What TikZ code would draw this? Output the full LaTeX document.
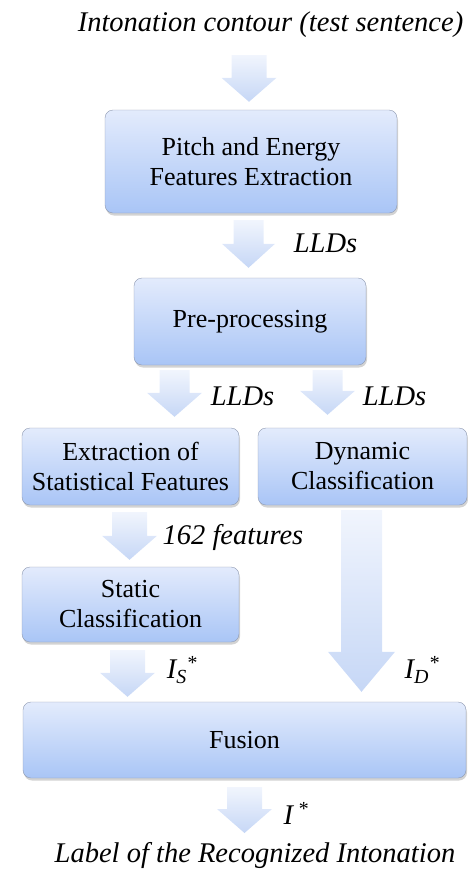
\documentclass[tikz,border=0pt]{standalone}
\usepackage{fontspec}
\setmainfont{Liberation Serif}
\usetikzlibrary{calc,shadows}
\definecolor{boxtop}{HTML}{E3EBFC}
\definecolor{boxbot}{HTML}{A9C5F6}
\definecolor{boxline}{HTML}{8E99B0}
\definecolor{arrtop}{HTML}{F1F5FD}
\definecolor{arrbot}{HTML}{C6D7F6}
\tikzset{
  block/.style={rectangle,rounded corners=8pt,draw=boxline,top color=boxtop,bottom color=boxbot,
    align=center,inner sep=0pt,font=\fontsize{26}{30}\selectfont,
    drop shadow={shadow xshift=1pt,shadow yshift=-2.5pt,opacity=0.35}},
  lbl/.style={inner sep=0pt,font=\fontsize{28.5}{32}\selectfont\itshape},
  fatarrow/.style={top color=arrtop,bottom color=arrbot,draw=none}
}
% block arrow: start, end, half shaft, half head, head length
\newcommand{\blockarrow}[5]{%
  \path[fatarrow] let \p1=(#1), \p2=(#2) in
    (\x1-#3pt,\y1) -- (\x1+#3pt,\y1) -- (\x1+#3pt,\y2+#5pt) -- (\x1+#4pt,\y2+#5pt)
    -- (\x1,\y2) -- (\x1-#4pt,\y2+#5pt) -- (\x1-#3pt,\y2+#5pt) -- cycle;}

\begin{document}
\begin{tikzpicture}[x=1pt,y=-1pt]
  \useasboundingbox (0,0) rectangle (468,871);
  % boxes
  \node[lbl] (title) at (270.5,25) {Intonation contour (test sentence)};
  \node[block,minimum width=292pt,minimum height=103pt] (pitch) at (251,161.5) {Pitch and Energy\\Features Extraction};
  \node[block,minimum width=232pt,minimum height=87pt] (pre) at (250,321.5) {Pre-processing};
  \node[block,minimum width=217pt,minimum height=77pt] (extr) at (130.5,466.5) {Extraction of\\Statistical Features};
  \node[block,minimum width=209pt,minimum height=77pt] (dyn) at (362.5,466.5) {Dynamic\\Classification};
  \node[block,minimum width=217pt,minimum height=75pt] (static) at (130.5,604.5) {Static\\Classification};
  \node[block,minimum width=443pt,minimum height=76pt] (fusion) at (244.5,740) {Fusion};
  \node[lbl] (result) at (255,855) {Label of the Recognized Intonation};

  % arrows
  \blockarrow{$(title)+(-21.5,30)$}{$(pitch.north)+(0,-8)$}{17.5}{27.5}{24}
  \blockarrow{$(pitch.south)+(-2.5,7)$}{$(pre.north)+(0,-10)$}{15}{26.5}{24}
  \blockarrow{$(pre.south)+(-75.5,5)$}{$(extr.north)+(0,-11)$}{15}{27.5}{24}
  \blockarrow{$(pre.south)+(77.5,5)$}{$(dyn.north)+(0,-13)$}{15}{27.5}{24}
  \blockarrow{$(extr.south)+(-1,7)$}{$(static.north)+(0,-7)$}{17.5}{27.5}{24}
  \blockarrow{$(dyn.south)+(-1,5)$}{$(fusion.north)+(0,-10)$}{20.5}{33.5}{40}
  \blockarrow{$(static.south)+(-3,8)$}{$(fusion.north)+(0,-5)$}{17.5}{27.5}{24}
  \blockarrow{$(fusion.south)+(0,9)$}{$(result)+(0,-22)$}{17.5}{27.5}{24}

  % arrow labels
  \node[lbl] (lld1) at (325.5,243) {LLDs};
  \node[lbl] (lld2) at (242.5,396) {LLDs};
  \node[lbl] (lld3) at (394.5,396) {LLDs};
  \node[lbl] (feat) at (233,537) {162 features};
  \node[lbl] (outs) at (182,670) {I\textsubscript{S}\textsuperscript{*}};
  \node[lbl] (outd) at (422,670) {I\textsubscript{D}\textsuperscript{*}};
  \node[lbl] (outi) at (296,813) {I\,\textsuperscript{*}};
\end{tikzpicture}
\end{document}
